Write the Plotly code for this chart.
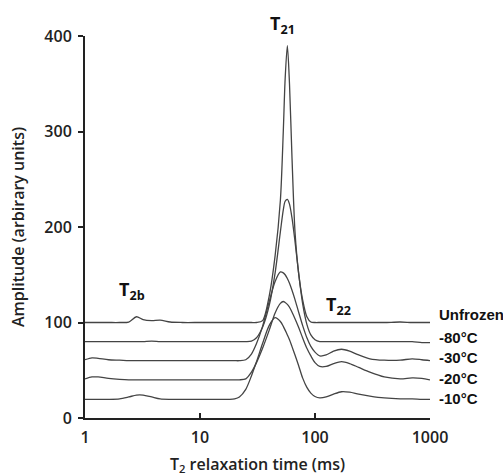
import plotly.graph_objects as go

# T2 relaxation time grid (ms)
T2 = [1, 1.15, 1.3, 1.6, 2, 2.4, 2.8, 3.2, 3.8, 4.5, 5.5, 7, 10, 14, 18, 20, 22, 25, 28, 31,
      35, 40, 45, 50, 53, 55, 57.5, 60, 63, 67, 72, 78, 85, 92, 100, 110, 125, 145, 170, 200,
      240, 300, 400, 550, 700, 850, 1000]

unfrozen = [100, 100, 100, 100, 100, 100.5, 106, 103, 102, 102.5, 100.5, 100, 100, 100, 100, 100, 100, 100, 100, 100,
            102, 128, 170, 228, 300, 355, 390, 350, 275, 195, 152, 124, 106, 100.5, 100, 100, 100, 100, 100, 100,
            100, 100, 100, 100.5, 100, 100, 100]
m80 = [80, 80, 80, 80, 80, 80, 80, 80, 80.5, 80, 80, 80, 80, 80, 80, 80, 80, 80, 80.5, 84,
       95, 118, 152, 195, 218, 227, 229, 224, 210, 185, 152, 120, 98, 87, 82, 80, 80, 80, 80, 80,
       80, 80, 80, 80, 80, 79, 79]
m30 = [61, 63, 62.5, 61, 60.5, 60, 60, 60, 60, 60, 60, 60, 60, 60, 60, 60, 60, 61, 67, 78,
       96, 122, 143, 153, 152, 150, 146, 141, 134, 124, 111, 97, 84, 75, 69, 65, 66, 70, 72, 70,
       66, 62, 60.5, 60.5, 62, 61, 60]
m20 = [41, 43, 43, 41.5, 40.5, 40, 40, 40, 40, 40, 40, 40, 40, 40, 40, 40, 40, 41, 48, 58,
       73, 92, 110, 120, 122, 121, 119, 116, 111, 104, 95, 84, 73, 65, 58, 54, 54, 57, 59, 57,
       53, 48, 43, 41, 42, 41.5, 40]
m10 = [19.5, 19.5, 19.5, 19.5, 20, 22, 24, 24, 22, 20, 19.5, 19.5, 19.5, 19.5, 19.5, 20, 22, 30, 44, 59,
       78, 97, 105, 101, 96, 92, 87, 82, 75, 66, 55, 42, 32, 26, 22.5, 21, 22, 25, 27.5, 27,
       25, 23, 21, 20, 20, 19.5, 19.5]

series_names = ["Unfrozen", "-80°C", "-30°C", "-20°C", "-10°C"]
series_values = [unfrozen, m80, m30, m20, m10]
label_y = [108, 84, 63, 41, 20]

fig = go.Figure()
for name, vals in zip(series_names, series_values):
    fig.add_trace(go.Scatter(x=T2, y=vals, mode="lines", name=name, showlegend=False,
                             line=dict(color="#444444", width=1.3, shape="spline", smoothing=0.8)))

tfont = dict(family="Open Sans", size=16, color="#222", weight=600)
annots = []
for name, yv in zip(series_names, label_y):
    annots.append(dict(x=1.02, xref="paper", y=yv, yref="y", text=name, showarrow=False,
                       xanchor="left", yanchor="middle",
                       font=dict(family="Liberation Sans", size=15, color="#111", weight="bold")))
peak_font = dict(family="Open Sans", size=18, color="#111", weight="bold")
annots.append(dict(x=1.713, y=1.03, xref="x", yref="paper", text="T<sub>21</sub>", showarrow=False,
                   yanchor="middle", font=peak_font))
annots.append(dict(x=0.409, y=134, xref="x", yref="y", text="T<sub>2b</sub>", showarrow=False, font=peak_font))
annots.append(dict(x=2.2, y=118, xref="x", yref="y", text="T<sub>22</sub>", showarrow=False, font=peak_font))

fig.update_layout(
    width=503, height=476,
    margin=dict(l=85, r=73, t=36, b=58),
    paper_bgcolor="white", plot_bgcolor="white",
    annotations=annots,
    xaxis=dict(type="log", range=[0, 3], tickvals=[1, 10, 100, 1000], ticktext=["1", "10", "100", "1000"],
               ticks="inside", ticklen=5, tickwidth=2, tickcolor="#222", automargin=False,
               showline=True, linecolor="#222", linewidth=2, showgrid=False, zeroline=False,
               tickfont=tfont, ticklabelstandoff=4,
               title=dict(text="T<sub>2</sub> relaxation time (ms)", font=tfont, standoff=12)),
    yaxis=dict(range=[0, 400], tickvals=[0, 100, 200, 300, 400],
               ticks="outside", ticklen=5, tickwidth=2, tickcolor="#222", automargin=False,
               showline=True, linecolor="#222", linewidth=2, showgrid=False, zeroline=False,
               tickfont=tfont, ticklabelstandoff=3,
               title=dict(text="Amplitude (arbirary units)", font=tfont, standoff=16)),
)

fig.write_html("out.html")
